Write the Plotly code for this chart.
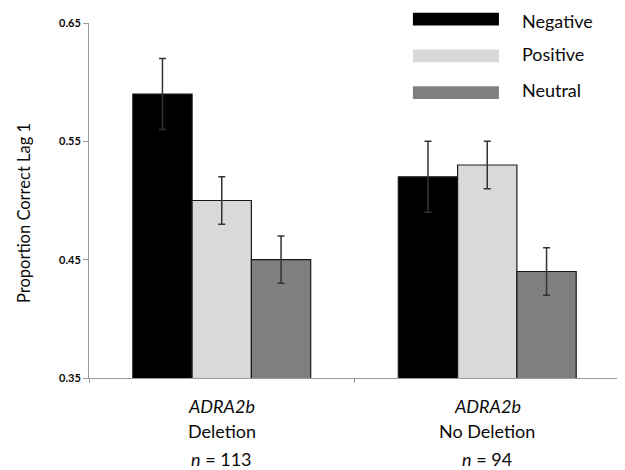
import plotly.graph_objects as go

groups = ["Deletion", "No Deletion"]
gene = "ADRA2b"
group_n = [113, 94]
series_names = ["Negative", "Positive", "Neutral"]
series_colors = ["#000000", "#d9d9d9", "#7f7f7f"]
negative = [0.59, 0.52]
positive = [0.50, 0.53]
neutral = [0.45, 0.44]
negative_err = [0.03, 0.03]
positive_err = [0.02, 0.02]
neutral_err = [0.02, 0.02]
y_ticks = [0.35, 0.45, 0.55, 0.65]

values = [negative, positive, neutral]
errors = [negative_err, positive_err, neutral_err]

FONT = "Lato"
TXT = "#0a0a0a"
fig = go.Figure()
for name, col, v, e in zip(series_names, series_colors, values, errors):
    fig.add_trace(go.Bar(
        x=groups, y=v, name=name, showlegend=False,
        marker=dict(color=col, line=dict(color="#1a1a1a", width=1.2)),
        error_y=dict(type="data", array=e, visible=True, color="#333333", thickness=1.5, width=3.5),
    ))

# category labels (three lines each)
for g, n in zip(groups, group_n):
    for txt, yy in [("<i>%s</i>" % gene, -0.079), (g, -0.150), ("<i>n</i> = %d" % n, -0.228)]:
        fig.add_annotation(xref="x", yref="paper", x=g, y=yy, text=txt, showarrow=False,
                           xanchor="center", yanchor="middle",
                           font=dict(family=FONT, size=18, color=TXT))

# legend drawn as wide swatches
for i, (name, col) in enumerate(zip(series_names, series_colors)):
    yc = 1.011 - i * 0.1035
    fig.add_shape(type="rect", xref="paper", yref="paper",
                  x0=0.610, x1=0.772, y0=yc - 0.018, y1=yc + 0.018,
                  fillcolor=col, line=dict(width=0), layer="above")
    if i == 0:
        fig.add_annotation(xref="paper", yref="paper", x=0.812, y=1.0 + 15 / 355, text=name,
                           showarrow=False, xanchor="left", yanchor="top",
                           font=dict(family=FONT, size=18, color=TXT))
    else:
        fig.add_annotation(xref="paper", yref="paper", x=0.812, y=yc + 0.006, text=name,
                           showarrow=False, xanchor="left", yanchor="middle",
                           font=dict(family=FONT, size=18, color=TXT))

# y-axis title
fig.add_annotation(xref="paper", yref="paper", x=-0.1224, y=0.465, text="Proportion Correct Lag 1",
                   textangle=-90, showarrow=False, xanchor="center", yanchor="middle",
                   font=dict(family=FONT, size=16.5, color=TXT))

fig.update_layout(
    width=617, height=462,
    margin=dict(l=81, r=5, t=15, b=92),
    paper_bgcolor="white", plot_bgcolor="white",
    barmode="group", bargap=0.33, bargroupgap=0,
    font=dict(family=FONT, color=TXT),
    xaxis=dict(showline=True, linecolor="#9a9a9a", linewidth=1,
               ticks="outside", tickson="boundaries", ticklen=4, tickcolor="#9a9a9a",
               showticklabels=False, showgrid=False),
    yaxis=dict(range=[0.35, 0.65], tickvals=y_ticks, ticktext=["<b>%.2f</b>" % t for t in y_ticks],
               showline=True, linecolor="#9a9a9a", linewidth=1,
               ticks="outside", ticklen=5, tickcolor="#9a9a9a",
               tickfont=dict(family=FONT, size=11, color=TXT), showgrid=False, zeroline=False),
)

fig.write_html("out.html")
